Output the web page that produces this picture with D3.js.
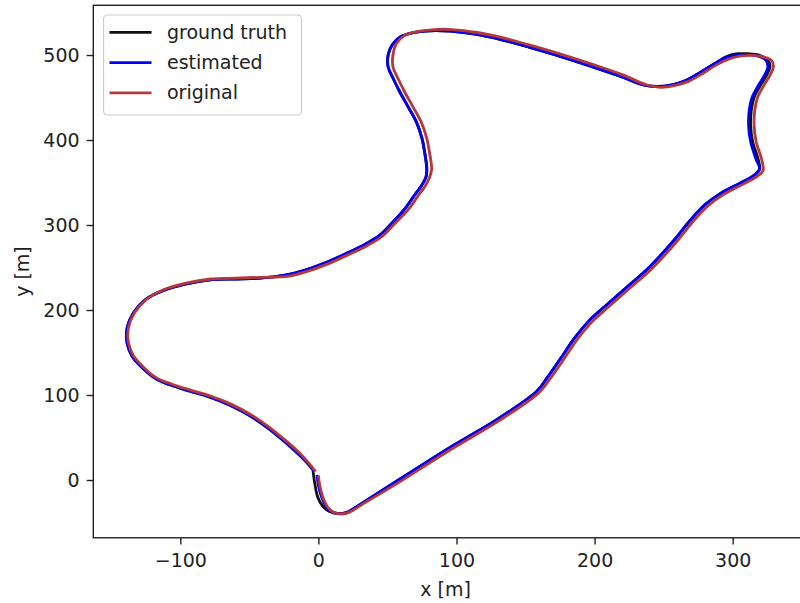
<!DOCTYPE html>
<html>
<head>
<meta charset="utf-8">
<script src="https://cdn.jsdelivr.net/npm/d3@7"></script>
<style>
  html, body { margin: 0; padding: 0; background: #fff; }
  svg { display: block; font-family: "DejaVu Sans", sans-serif; }
</style>
</head>
<body>
<svg id="chart" width="800" height="603"></svg>
<script>
// Trajectory of the lap, in metres
const groundTruthX = [-4, -2.5, -0.5, 3, 8, 16, 22, 30, 60, 95, 130, 158, 166, 175, 186, 197, 208, 222, 240, 258, 269, 280, 291, 305, 316, 319.5, 318.5, 314.5, 313, 313.5, 315.5, 320, 324.5, 327, 325.5, 319, 311, 303.5, 296, 287, 276, 266, 256, 246, 236, 218.5, 197, 175, 153, 131.5, 113.5, 95.5, 81, 68, 59, 53.5, 50.5, 50.5, 54, 59, 65, 71, 75, 77.3, 78.5, 78, 74.5, 69.5, 63, 54, 44.5, 34, 19.5, 5, -9.5, -24, -42, -60, -78.5, -96.5, -113, -125.5, -134, -138.5, -138.5, -135, -127.5, -118.5, -107.5, -93, -78.5, -64, -49.5, -36.5, -24, -14.5, -7.5, -3];
const groundTruthY = [12, -5, -20, -30.5, -37, -39.5, -37, -29, 2, 38, 72, 104, 121, 142, 168, 189, 205, 225, 251, 283, 305, 324, 337, 349, 359, 366, 377, 398, 417, 435, 450, 464, 476, 486, 494, 500, 501.5, 501.5, 498.5, 490, 479, 470, 465, 463, 464.5, 475, 487, 498.5, 509, 518.5, 524.5, 528, 528.5, 526, 521, 512, 500, 486, 473, 456.5, 439, 421, 402, 382, 366, 357, 346, 335, 320, 303.5, 288, 277.5, 266, 255.5, 247, 241, 237.5, 236.5, 235.5, 230.5, 222.5, 212, 196.5, 179, 161, 146, 132, 120, 112, 104.5, 97.5, 88, 75.5, 61, 44.5, 30.5, 19, 10];

const estimatedX = [-1, 0, 2.5, 5.5, 10, 16, 22, 30, 60, 95, 130, 158, 166, 175, 186, 197, 208, 222, 240, 258, 269, 280, 291, 305, 316, 319.5, 317, 313, 311.5, 312, 314, 318.5, 323, 325.5, 324, 318, 310, 303, 296, 287, 276, 266, 256, 246, 236, 218.5, 197, 175, 153, 131.5, 113.5, 95.5, 81, 68, 59, 53.5, 50.5, 50.5, 54, 59, 65, 71, 75, 77.3, 78.5, 78, 74.5, 69.5, 63, 54, 44.5, 34, 19.5, 5, -9.5, -24, -42, -60, -78.5, -96.5, -113, -125.5, -134, -138.5, -138.5, -135, -127.5, -118.5, -107.5, -93, -78.5, -64, -49.5, -36.5, -24, -14.5, -7.5, -3];
const estimatedY = [6, -6, -21, -31, -37.5, -39.5, -37, -29, 2, 38, 72, 104, 121, 142, 168, 189, 205, 225, 251, 283, 305, 324, 337, 349, 359, 366, 377, 398, 417, 435, 450, 464, 476, 486, 494, 499, 500.5, 500, 497.5, 490, 479, 470, 465, 463, 464.5, 475, 487, 498.5, 509, 518.5, 524.5, 528, 528.5, 526, 521, 512, 500, 486, 473, 456.5, 439, 421, 402, 382, 366, 357, 346, 335, 320, 303.5, 288, 277.5, 266, 255.5, 247, 241, 237.5, 236.5, 235.5, 230.5, 222.5, 212, 196.5, 179, 161, 146, 132, 120, 112, 104.5, 97.5, 88, 75.5, 61, 44.5, 30.5, 19, 10];

const originalX = [0, 1, 3.5, 6.5, 11, 17, 23, 31, 61.5, 96.5, 131.5, 159.5, 168, 177, 188, 199, 210, 224, 242, 260, 271, 282, 293, 307, 318, 322, 321, 317, 315.5, 316, 318, 322.5, 327, 329.5, 328, 321.5, 313.5, 306.5, 299.5, 289, 278, 268, 258, 247.5, 237.5, 220, 198.5, 176.5, 154.5, 133, 115, 97, 84, 71, 62, 56.5, 54, 54, 57.5, 62.5, 68.5, 74.5, 78.5, 80.8, 82, 80.5, 77, 72, 65.5, 55.5, 46, 35.5, 21, 6.5, -8, -22.5, -41.5, -59.5, -78, -96, -112.5, -124.5, -133, -137.5, -137.5, -134, -126.5, -117.5, -106.5, -92, -77.5, -63, -48.5, -35.5, -23, -13.5, -6.5, -2];
const originalY = [5.5, -6.5, -21.5, -31.5, -38, -40, -37.5, -29.5, 0.5, 36.5, 70.5, 102.5, 119.5, 140.5, 166.5, 187.5, 203.5, 223.5, 249.5, 281.5, 303.5, 322.5, 335.5, 347.5, 357.5, 364, 377, 398, 417, 435, 450, 464, 476, 486, 494, 498, 499.5, 499, 496.5, 489, 478, 469, 464, 462, 465, 477, 489, 500.5, 511, 520.5, 526.5, 530, 530, 527.5, 522.5, 513.5, 500, 486, 473, 456.5, 439, 421, 402, 382, 366, 356, 345, 334, 319, 302, 286.5, 276, 264.5, 254, 245.5, 239.5, 238.5, 237.5, 236.5, 231.5, 223.5, 212.5, 197, 179.5, 161.5, 146.5, 132.5, 120.5, 113, 105.5, 98.5, 89, 76.5, 62, 45.5, 31.5, 19, 10];

const seriesNames = ["ground truth", "estimated", "original"];
const seriesColors = ["#111111", "#0000ff", "#b5383a"];

const xTicks = [-100, 0, 100, 200, 300];
const yTicks = [0, 100, 200, 300, 400, 500];
const xDomain = [-163, 351.5];
const yDomain = [-68, 558.5];

const series = [
  { name: seriesNames[0], color: seriesColors[0], xs: groundTruthX, ys: groundTruthY },
  { name: seriesNames[1], color: seriesColors[1], xs: estimatedX, ys: estimatedY },
  { name: seriesNames[2], color: seriesColors[2], xs: originalX, ys: originalY }
];

const svg = d3.select("#chart");
const plot = { left: 93.3, right: 803.8, top: 5.3, bottom: 537.8 };

const x = d3.scaleLinear().domain(xDomain).range([plot.left, plot.right]);
const y = d3.scaleLinear().domain(yDomain).range([plot.bottom, plot.top]);

svg.append("defs").append("clipPath").attr("id", "plot-clip")
  .append("rect")
  .attr("x", plot.left).attr("y", plot.top)
  .attr("width", plot.right - plot.left).attr("height", plot.bottom - plot.top);

const line = d3.line()
  .x(d => x(d[0]))
  .y(d => y(d[1]))
  .curve(d3.curveCatmullRom.alpha(0.5));

const lines = svg.append("g").attr("clip-path", "url(#plot-clip)");
series.forEach(s => {
  const pts = s.xs.map((v, i) => [v, s.ys[i]]);
  lines.append("path")
    .datum(pts)
    .attr("d", line)
    .attr("fill", "none")
    .attr("stroke", s.color)
    .attr("stroke-width", 2.8)
    .attr("stroke-linejoin", "round")
    .attr("stroke-linecap", "butt");
});

const fmt = d => (d < 0 ? "\u2212" + Math.abs(d) : String(d));

const xAxis = svg.append("g")
  .attr("transform", `translate(0,${plot.bottom})`)
  .call(d3.axisBottom(x).tickValues(xTicks).tickFormat(fmt).tickSize(6.7).tickPadding(9));
const yAxis = svg.append("g")
  .attr("transform", `translate(${plot.left},0)`)
  .call(d3.axisLeft(y).tickValues(yTicks).tickFormat(fmt).tickSize(6.7).tickPadding(7));

[xAxis, yAxis].forEach(g => {
  g.select(".domain").remove();
  g.selectAll(".tick line").attr("stroke", "#222").attr("stroke-width", 1.4);
  g.selectAll(".tick text")
    .attr("fill", "#222")
    .style("font-family", '"DejaVu Sans", sans-serif')
    .style("font-size", "19px");
});

// frame
svg.append("rect")
  .attr("x", plot.left).attr("y", plot.top)
  .attr("width", plot.right - plot.left).attr("height", plot.bottom - plot.top)
  .attr("fill", "none").attr("stroke", "#222").attr("stroke-width", 1.4);

svg.append("text")
  .attr("x", (plot.left + plot.right) / 2 - 3)
  .attr("y", 596)
  .attr("text-anchor", "middle")
  .attr("fill", "#222")
  .style("font-size", "19px")
  .text("x [m]");

svg.append("text")
  .attr("transform", `translate(22,${(plot.top + plot.bottom) / 2}) rotate(-90)`)
  .attr("text-anchor", "middle")
  .attr("dominant-baseline", "central")
  .attr("fill", "#222")
  .style("font-size", "19px")
  .text("y [m]");

// legend
const legend = svg.append("g");
legend.append("rect")
  .attr("x", 103.5).attr("y", 15)
  .attr("width", 198).attr("height", 100)
  .attr("rx", 4).attr("ry", 4)
  .attr("fill", "rgba(255,255,255,0.8)")
  .attr("stroke", "#cccccc").attr("stroke-width", 1.2);

series.forEach((s, i) => {
  const ly = 32.3 + i * 30.3;
  legend.append("line")
    .attr("x1", 109.5).attr("x2", 151.5)
    .attr("y1", ly).attr("y2", ly)
    .attr("stroke", s.color).attr("stroke-width", 2.8);
  legend.append("text")
    .attr("x", 167)
    .attr("y", ly + 6.5)
    .attr("fill", "#222")
    .style("font-size", "19px")
    .text(s.name);
});
</script>
</body>
</html>
